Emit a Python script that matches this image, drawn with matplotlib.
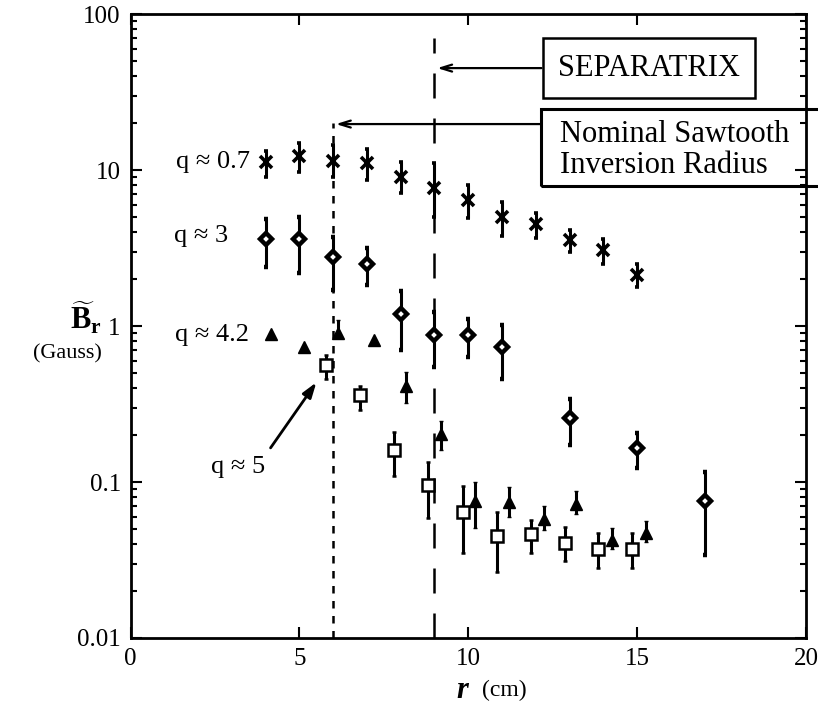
import matplotlib
matplotlib.use("Agg")
import matplotlib.pyplot as plt
from matplotlib.patches import Rectangle

plt.rcParams['font.family'] = ['Liberation Serif', 'DejaVu Serif']
plt.rcParams['mathtext.fontset'] = 'custom'
plt.rcParams['mathtext.rm'] = 'Liberation Serif'
plt.rcParams['mathtext.bf'] = 'Liberation Serif:bold'
plt.rcParams['mathtext.it'] = 'Liberation Serif:italic'

# q ~ 0.7 (asterisks)
q07_r = [4, 5, 6, 7, 8, 9, 10, 11, 12, 13, 14, 15]
q07_b = [11.2, 12.3, 11.4, 11.1, 9.0, 7.7, 6.4, 5.0, 4.5, 3.56, 3.07, 2.12]
q07_lo = [9.0, 9.7, 9.0, 8.6, 7.1, 5.0, 4.9, 3.8, 3.66, 3.0, 2.5, 1.78]
q07_hi = [13.2, 14.9, 14.5, 13.6, 11.3, 11.1, 8.0, 6.2, 5.3, 4.1, 3.6, 2.5]

# q ~ 3 (diamonds)
q3_r = [4, 5, 6, 7, 8, 9, 10, 11, 13, 15, 17]
q3_b = [3.61, 3.61, 2.77, 2.5, 1.19, 0.875, 0.875, 0.73, 0.257, 0.165, 0.0755]
q3_lo = [2.39, 2.2, 1.70, 1.83, 0.70, 0.55, 0.63, 0.46, 0.173, 0.123, 0.034]
q3_hi = [4.85, 5.0, 3.7, 3.16, 1.68, 1.23, 1.11, 1.01, 0.34, 0.206, 0.116]

# q ~ 4.2 (triangles)
q42_r = [4.15, 5.15, 6.15, 7.2, 8.15, 9.2, 10.2, 11.2, 12.25, 13.2, 14.25, 15.25]
q42_b = [0.89, 0.73, 0.90, 0.81, 0.41, 0.203, 0.0755, 0.074, 0.058, 0.072, 0.0425, 0.047]
q42_lo = [0.89, 0.73, 0.86, 0.81, 0.32, 0.16, 0.051, 0.06, 0.049, 0.062, 0.037, 0.041]
q42_hi = [0.89, 0.73, 1.09, 0.81, 0.51, 0.246, 0.1, 0.093, 0.07, 0.088, 0.051, 0.056]

# q ~ 5 (open squares)
q5_r = [5.8, 6.8, 7.8, 8.8, 9.85, 10.85, 11.85, 12.85, 13.85, 14.85]
q5_b = [0.56, 0.36, 0.16, 0.096, 0.064, 0.045, 0.0465, 0.0406, 0.0372, 0.0372]
q5_lo = [0.46, 0.29, 0.11, 0.059, 0.035, 0.0266, 0.035, 0.031, 0.028, 0.028]
q5_hi = [0.65, 0.41, 0.21, 0.134, 0.094, 0.064, 0.057, 0.0515, 0.047, 0.047]

r_inversion = 6.0
r_separatrix = 9.0

fig = plt.figure(figsize=(8.18, 7.15), dpi=100)
ax = fig.add_axes([130.5/818, 1-638/715, (806-130.5)/818, (638-14)/715])
ax.set_yscale('log')
ax.set_xlim(0, 20)
ax.set_ylim(0.01, 100)


def yerr(b, lo, hi):
    return [[v - l for v, l in zip(b, lo)], [h - v for v, h in zip(b, hi)]]


eb = dict(ls='none', ecolor='black', elinewidth=2.2, capsize=1.5, capthick=1.5, zorder=3)
ax.errorbar(q07_r, q07_b, yerr=yerr(q07_b, q07_lo, q07_hi), marker='x',
            ms=9, mew=2.6, color='black', **eb)
ax.errorbar(q3_r, q3_b, yerr=yerr(q3_b, q3_lo, q3_hi), marker='D',
            ms=6.5, mew=3.2, mfc='white', mec='black', color='black', **eb)
ax.errorbar(q42_r, q42_b, yerr=yerr(q42_b, q42_lo, q42_hi), marker='^',
            ms=9, mew=1.0, mfc='black', mec='black', color='black', **eb)
ax.errorbar(q5_r, q5_b, yerr=yerr(q5_b, q5_lo, q5_hi), marker='s',
            ms=9, mew=1.8, mfc='white', mec='black', color='black', **eb)

# vertical reference lines
ax.plot([r_inversion, r_inversion], [0.01, 20], color='black', lw=1.8,
        ls=(0, (3, 3)), zorder=2)
ax.plot([r_separatrix, r_separatrix], [0.01, 70], color='black', lw=1.8,
        ls=(0, (10, 8)), zorder=2)

fs = 19
ax.text(3.55, 11.3, 'q ≈ 0.7', ha='right', va='center', fontsize=fs)
ax.text(2.9, 3.77, 'q ≈ 3', ha='right', va='center', fontsize=fs)
ax.text(3.5, 0.875, 'q ≈ 4.2', ha='right', va='center', fontsize=fs)
ax.text(4.0, 0.125, 'q ≈ 5', ha='right', va='center', fontsize=fs)
ax.annotate('', xy=(5.55, 0.45), xytext=(4.1, 0.16),
            arrowprops=dict(arrowstyle='-|>,head_length=0.9,head_width=0.3',
                            color='black', lw=2))

# separatrix label
ax.annotate('', xy=(r_separatrix, 45), xytext=(12.25, 45),
            arrowprops=dict(arrowstyle='->,head_length=0.8,head_width=0.25',
                            color='black', lw=1.6))
fig.patches.append(Rectangle((543/818, 1-98/715), (755-543)/818, 60/715,
                             transform=fig.transFigure, fill=False, lw=1.8,
                             ec='black'))
fig.text(649/818, 1-68/715, 'SEPARATRIX', ha='center', va='center', fontsize=22)

# inversion radius label
ax.annotate('', xy=(r_inversion, 19.7), xytext=(12.2, 19.7),
            arrowprops=dict(arrowstyle='->,head_length=0.8,head_width=0.25',
                            color='black', lw=1.6))
fig.patches.append(Rectangle((541/818, 1-186/715), 300/818, 77/715,
                             transform=fig.transFigure, fill=False, lw=2.2,
                             ec='black'))
fig.text(560/818, 1-150/715, 'Nominal Sawtooth\nInversion Radius', ha='left',
         va='center', fontsize=22, linespacing=1.1)

# axes styling
ax.set_xticks([0, 5, 10, 15, 20])
ax.set_xticklabels(['0', '5', '10', '15', '20'])
ax.set_yticks([0.01, 0.1, 1, 10, 100])
ax.set_yticklabels(['0.01', '0.1', '1', '10', '100'])
ax.tick_params(which='both', direction='in', top=True, right=True,
               labelsize=18, width=1.5)
ax.tick_params(which='major', length=8, pad=7)
ax.tick_params(which='minor', length=4)
ax.tick_params(axis='x', which='minor', bottom=False, top=False)
for s in ax.spines.values():
    s.set_linewidth(2)

fig.text(86/818, 1-318/715, r'$\widetilde{\mathbf{B}}_{\mathbf{r}}$',
         ha='center', va='center', fontsize=22)
fig.text(67/818, 1-354/715, '(Gauss)', ha='center', va='center', fontsize=16)
fig.text(468/818, 1-690/715, 'r', ha='right', va='center',
         fontsize=22, fontweight='bold', style='italic')
fig.text(482/818, 1-690/715, '(cm)', ha='left', va='center', fontsize=17)

fig.savefig('out.png', dpi=100)
